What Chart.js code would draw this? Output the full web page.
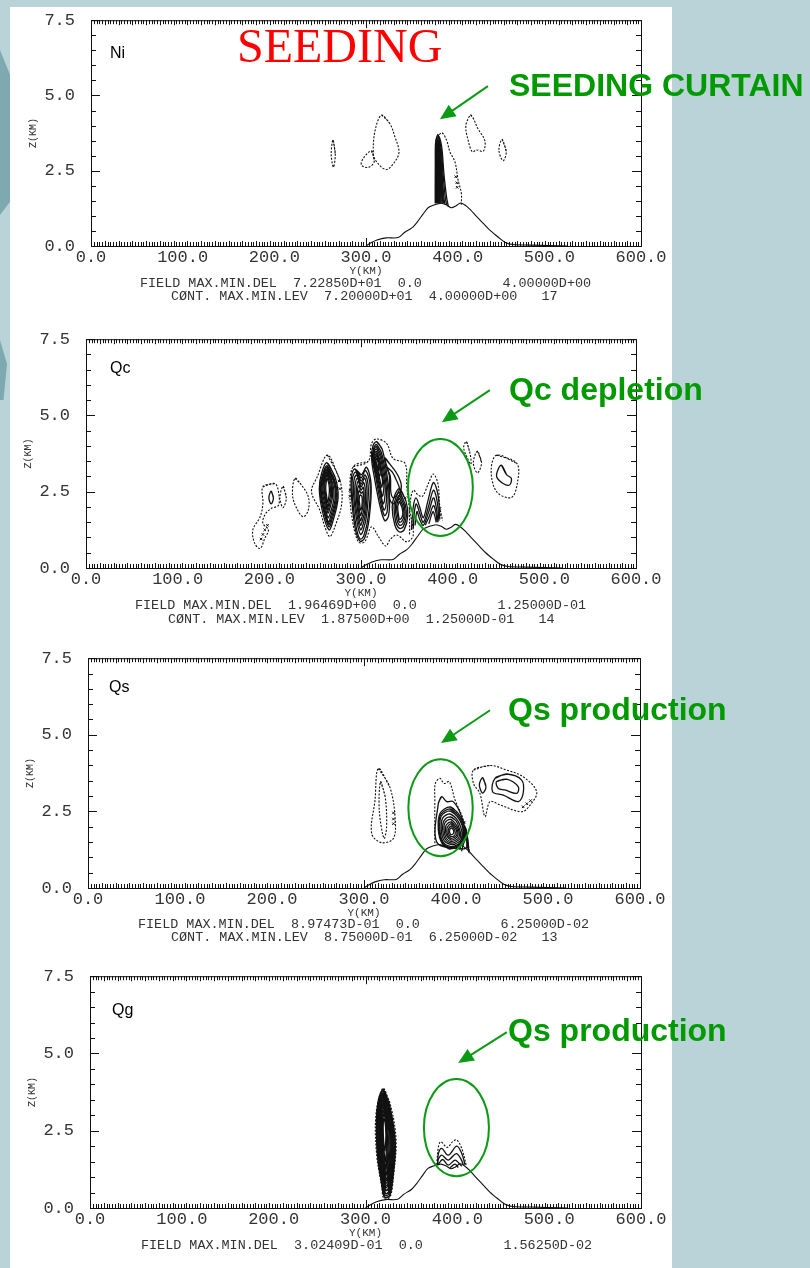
<!DOCTYPE html>
<html>
<head>
<meta charset="utf-8">
<title>Seeding</title>
<script src="https://cdn.jsdelivr.net/npm/chart.js@4"></script>
<style>
  html, body { margin: 0; padding: 0; }
  body { position: relative; width: 810px; height: 1268px; overflow: hidden; background: #b9d3d8; }
  #sheet { position: absolute; left: 10px; top: 7px; width: 662px; height: 1261px; background: #fff; }
  .shade { position: absolute; left: 0; width: 10px; background: #7fa9b0; }
  canvas { position: absolute; }
  .foot { position: absolute; height: 16px; line-height: 16px; font: 13.43px/16px "Liberation Mono", monospace; color: #333; white-space: pre; overflow: hidden; }
  .tag { position: absolute; font: 16px/18px "Liberation Sans", sans-serif; color: #000; }
  .note { position: absolute; font: bold 32px/36px "Liberation Sans", sans-serif; color: #009a00; white-space: nowrap; }
  #title { position: absolute; left: 237px; top: 18px; font: 48px/56px "Liberation Serif", serif; color: #ff0000; }
</style>
</head>
<body>
<div class="shade" style="top:50px;height:165px;clip-path:polygon(0 0,100% 15%,100% 92%,0 100%)"></div>
<div class="shade" style="top:340px;height:60px;width:7px;clip-path:polygon(0 0,100% 40%,50% 100%,0 100%)"></div>
<div id="sheet"></div>
<canvas id="chartNi"></canvas>
<canvas id="chartQc"></canvas>
<canvas id="chartQs"></canvas>
<canvas id="chartQg"></canvas>

<div id="title">SEEDING</div>
<div class="tag" style="left:110px;top:44px">Ni</div>
<div class="tag" style="left:110px;top:359px">Qc</div>
<div class="tag" style="left:109px;top:678px">Qs</div>
<div class="tag" style="left:112px;top:1001px">Qg</div>
<div class="note" style="left:509px;top:67px">SEEDING CURTAIN</div>
<div class="note" style="left:509px;top:371px">Qc depletion</div>
<div class="note" style="left:508px;top:691px">Qs production</div>
<div class="note" style="left:508px;top:1012px">Qs production</div>

<div class="foot" style="left:140px;top:276px">FIELD MAX.MIN.DEL  7.22850D+01  0.0          4.00000D+00</div>
<div class="foot" style="left:171px;top:289px">CØNT. MAX.MIN.LEV  7.20000D+01  4.00000D+00   17</div>
<div class="foot" style="left:135px;top:598px">FIELD MAX.MIN.DEL  1.96469D+00  0.0          1.25000D-01</div>
<div class="foot" style="left:168px;top:612px">CØNT. MAX.MIN.LEV  1.87500D+00  1.25000D-01   14</div>
<div class="foot" style="left:138px;top:917px">FIELD MAX.MIN.DEL  8.97473D-01  0.0          6.25000D-02</div>
<div class="foot" style="left:171px;top:930px">CØNT. MAX.MIN.LEV  8.75000D-01  6.25000D-02   13</div>
<div class="foot" style="left:141px;top:1238px;height:12px">FIELD MAX.MIN.DEL  3.02409D-01  0.0          1.56250D-02</div>

<script>
// axis ticks
const xTicks = [0, 100, 200, 300, 400, 500, 600];
const zTicks = [0, 2.5, 5, 7.5];

// terrain profile under every panel (km, km)
const terrainY = [300, 305, 312, 322, 335, 342, 350, 356, 362, 368, 374, 382, 388, 393, 398, 403, 408, 414, 420, 428, 436, 444, 452, 460, 480, 520];
const terrainZ = [0, 0.1, 0.2, 0.27, 0.28, 0.45, 0.6, 0.8, 1.05, 1.28, 1.36, 1.42, 1.36, 1.27, 1.33, 1.43, 1.36, 1.2, 1.0, 0.75, 0.5, 0.3, 0.12, 0.05, 0.03, 0];

// contours below are flat lists: y, z, y, z ...
const niDashedLoops = [
  [264, 3.52, 266.5, 3.05, 264.5, 2.62, 262, 3.05],
  [317, 4.35, 326, 4.07, 331.5, 3.63, 336, 3.13, 331.5, 2.8, 322, 2.54, 311.5, 2.8, 308, 3.07, 310, 3.85],
  [306, 3.16, 309, 2.8, 302.4, 2.61, 295, 2.69, 297, 2.91],
  [414, 4.35, 417, 4.24, 422, 3.9, 429.6, 3.5, 428, 3.15, 420.5, 3.19, 416, 3.13, 411.5, 3.5, 409, 4.0],
  [448.5, 3.54, 453, 3.13, 449.6, 2.83, 445, 3.18]
];
const niDashedOpen = [
  [376, 3.5, 382.4, 3.76, 387.8, 3.52, 391.5, 3.13, 397, 2.8, 400.5, 2.19, 404, 1.75, 404, 1.36]
];
const niSolidOpen = [
  [376, 1.42, 376, 2.6, 376.5, 3.3, 379, 3.65, 382.5, 3.3, 385, 2.4, 388, 1.6, 390, 1.3],
  [376.5, 1.42, 376.5, 2.6, 377, 3.25, 379, 3.58, 382, 3.2, 384, 2.4, 386.5, 1.6, 388, 1.36],
  [377, 1.42, 377, 2.6, 377.5, 3.2, 379, 3.5, 381.5, 3.1, 383, 2.4, 385, 1.6, 386, 1.4],
  [377.5, 1.42, 377.4, 2.6, 378, 3.15, 379, 3.42, 381, 3.05, 382.5, 2.4, 384, 1.6, 385, 1.42],
  [378, 1.42, 378, 2.5, 378.3, 3.1, 379, 3.35, 380.5, 3.0, 382, 2.4, 383, 1.7, 384, 1.42],
  [378.5, 1.42, 378.4, 2.5, 378.7, 3.0, 379.2, 3.25, 380.3, 2.9, 381.5, 2.3, 382.5, 1.7, 383, 1.42],
  [379, 1.42, 379, 2.5, 379.2, 3.1, 380, 2.8, 381, 2.2, 381.8, 1.42],
  [379.5, 1.42, 379.5, 2.4, 379.8, 2.9, 380.5, 2.3, 381, 1.42],
  [375.5, 1.42, 375.6, 2.8, 376, 3.45, 378.5, 3.7, 380, 3.4, 380, 2.2, 379.5, 1.42]
];
const niMarks = [398, 2.3, 399, 2.1, 399.5, 1.95];

const qcDashedLoops = [
  [193, 2.66, 206, 2.77, 210, 2.5, 210, 2.06, 202, 1.95, 195, 1.74, 193, 1.46, 199, 1.25, 195, 0.97, 190, 0.64, 184, 0.81, 182, 1.25, 190, 1.68, 193, 2.12],
  [215, 2.68, 218.5, 2.3, 215, 1.98, 211.5, 2.3],
  [228, 2.94, 235, 2.72, 242.5, 2.34, 242.5, 1.9, 237, 1.68, 230, 1.95, 225.3, 2.39],
  [263.5, 3.7, 277, 2.88, 279, 2.12, 271.5, 1.35, 266, 1.03, 260.6, 1.35, 255, 1.9, 246, 2.5, 252, 2.97],
  [291.5, 3.32, 308, 3.5, 311.5, 4.08, 317, 4.23, 328, 4.08, 335, 3.59, 348, 3.43, 350, 2.66, 353, 1.9, 357, 1.08, 350, 0.86, 339, 1.08, 331.5, 0.92, 327, 0.72, 319, 1.03, 311.5, 1.35, 304, 0.86, 297, 0.86, 290, 1.68, 288, 2.55],
  [415, 4.14, 419, 3.75, 420, 3.4, 416, 3.6, 412, 3.95],
  [427, 3.83, 431.5, 3.45, 427, 3.12, 422.5, 3.45],
  [448, 3.7, 470, 3.43, 470.5, 2.77, 464, 2.31, 448, 2.5, 442, 3.2]
];
const qcDashedOpen = [
  [353, 1.1, 353.5, 2.1, 357, 2.55, 362, 2.4, 367, 2.35, 374, 2.8, 379, 3.08, 384, 2.75, 386, 2, 389, 1.55]
];
const qcSolidLoops = [
  [202, 2.52, 204.5, 2.3, 202, 2.1, 199.5, 2.3],
  [453.3, 3.37, 459, 3.05, 464, 2.94, 462, 2.72, 455, 2.77, 448, 2.99, 450, 3.26],
  // cell near 263 km
  [263, 3.45, 272, 2.95, 275, 2.3, 269, 1.5, 265, 1.25, 258, 1.85, 254.5, 2.6, 257, 3.1],
  [263, 3.35, 271, 2.9, 274, 2.3, 268, 1.55, 265, 1.35, 259, 1.9, 255, 2.6, 258, 3.05],
  [263, 3.3, 270.5, 2.88, 273, 2.3, 267.5, 1.62, 264.8, 1.43, 259.5, 1.95, 255.8, 2.6, 258.5, 3.02],
  [263, 3.25, 270, 2.85, 272, 2.3, 267, 1.7, 264.5, 1.5, 260, 2.0, 256.5, 2.6, 259, 3.0],
  [263, 3.2, 269, 2.8, 270.5, 2.3, 266.5, 1.8, 264, 1.65, 260.5, 2.1, 257.5, 2.6, 259.5, 2.95],
  [263, 3.15, 268, 2.8, 269, 2.35, 266, 1.95, 264, 1.8, 261, 2.2, 258.5, 2.6, 260, 2.95],
  [263, 3.1, 267, 2.8, 268, 2.4, 265.5, 2.05, 264, 1.9, 261.5, 2.25, 259.5, 2.65, 260.5, 2.9],
  [263, 3.05, 266, 2.75, 267, 2.45, 265, 2.15, 263.8, 2.0, 262, 2.3, 260.5, 2.6, 261, 2.85],
  [263, 2.95, 265, 2.75, 265.5, 2.5, 264.5, 2.25, 263.5, 2.15, 262.5, 2.35, 261.5, 2.6, 262, 2.8],
  // cell near 300 km
  [293, 3.25, 300, 3.05, 306, 3.3, 311, 2.75, 309, 1.65, 304, 0.98, 299, 0.88, 294, 1.25, 290, 2.2, 289.5, 2.95],
  [294, 3.15, 300, 2.95, 305, 3.2, 310, 2.7, 308, 1.7, 303, 1.05, 299, 0.95, 295, 1.3, 291, 2.2, 290.5, 2.9],
  [295, 3.05, 300, 2.85, 304.5, 3.05, 308, 2.6, 306, 1.7, 302, 1.2, 299.5, 1.1, 296, 1.45, 292.5, 2.2, 292, 2.8],
  [296, 2.95, 300, 2.75, 304, 2.95, 306.5, 2.5, 305, 1.8, 301.5, 1.35, 299.5, 1.25, 296.5, 1.6, 293.5, 2.25, 293.5, 2.7],
  [297, 2.85, 300, 2.65, 303, 2.8, 305, 2.4, 304, 1.85, 301, 1.5, 299.5, 1.4, 297, 1.75, 295, 2.25, 295, 2.6],
  [297.5, 2.7, 300, 2.55, 302.5, 2.65, 303.5, 2.3, 303, 1.9, 300.8, 1.65, 299.5, 1.55, 297.5, 1.85, 296, 2.25, 296, 2.5],
  [298, 2.55, 300, 2.45, 302, 2.5, 302.5, 2.25, 302, 2, 300.5, 1.8, 299.5, 1.72, 298, 1.95, 297, 2.25, 297, 2.4],
  [299, 2.4, 301, 2.35, 301.3, 2.15, 300.5, 1.95, 299.5, 1.9, 298.5, 2.1, 298, 2.25],
  // tilted cell near 318 km
  [317, 4.14, 323, 3.9, 327, 3.3, 331, 2.4, 330, 1.7, 326, 1.55, 321, 2, 315, 2.9, 311.5, 3.6, 313, 4],
  [317, 4.05, 322, 3.8, 326, 3.25, 329.5, 2.45, 328.5, 1.85, 325.5, 1.72, 321, 2.2, 316, 3, 312.5, 3.6, 314, 3.95],
  [317, 3.98, 321.5, 3.72, 325, 3.2, 328, 2.5, 327, 2, 325, 1.9, 321, 2.4, 316.5, 3.05, 313, 3.6, 314.5, 3.9],
  [317, 3.9, 321, 3.65, 324, 3.15, 326.5, 2.6, 325.5, 2.2, 324, 2.1, 321, 2.55, 317, 3.1, 313.5, 3.6, 315, 3.85],
  [317, 3.82, 320.5, 3.55, 323, 3.1, 325, 2.7, 324, 2.4, 323, 2.35, 320.5, 2.75, 317, 3.2, 314, 3.6, 315.3, 3.78],
  [317, 3.75, 320, 3.5, 322, 3.1, 323.5, 2.85, 322.5, 2.65, 320.5, 2.9, 317.5, 3.25, 314.8, 3.6],
  [317, 3.68, 319.5, 3.45, 321, 3.1, 320, 3, 317.5, 3.35, 315.5, 3.58],
  [317.5, 3.6, 319, 3.4, 319.5, 3.2, 318, 3.3, 316.3, 3.5],
  // shoulder toward 345 km
  [326, 3.6, 333, 3.35, 340, 3.05, 344, 2.7, 341, 2.3, 335, 2.1, 331, 2.3, 331, 3],
  [328, 3.3, 334, 3.15, 339, 2.85, 342, 2.6, 339, 2.4, 335, 2.3, 332.5, 2.5, 332, 3],
  // cell near 342 km
  [342, 2.6, 349, 2.2, 351, 1.7, 347, 1.25, 342, 1.18, 337, 1.4, 334, 2, 337, 2.4],
  [342, 2.48, 348, 2.1, 349.5, 1.7, 346, 1.35, 342, 1.3, 338, 1.5, 336, 2, 338, 2.3],
  [342, 2.38, 347, 2.05, 348, 1.7, 345.5, 1.45, 342, 1.4, 339, 1.6, 337.5, 2, 339, 2.25],
  [342, 2.28, 346, 2, 346.8, 1.72, 345, 1.55, 342, 1.5, 340, 1.7, 338.8, 2, 340, 2.18],
  [342, 2.18, 345, 1.95, 345.5, 1.75, 344, 1.63, 342, 1.6, 340.8, 1.75, 340, 2, 340.8, 2.1]
];
const qcSolidOpen = [
  [355, 1.25, 357, 2.0, 360, 2.3, 364, 2.0, 368, 1.65, 373, 2.2, 379, 2.8, 384, 2.4, 386, 1.6],
  [357, 1.3, 358.5, 1.9, 360.5, 2.1, 364, 1.8, 368, 1.5, 373.5, 2, 379, 2.55, 383, 2.2, 385, 1.55],
  [359, 1.4, 361, 1.85, 364, 1.6, 368, 1.4, 374, 1.85, 379, 2.3, 382, 2, 384, 1.5],
  [370, 1.4, 374.5, 1.7, 379, 2.05, 381.5, 1.85, 383, 1.5],
  [374, 1.45, 378.5, 1.85, 380.5, 1.7, 382, 1.5]
];
const qcMarks = [191, 0.95, 193, 1.1, 195, 1.25, 198, 1.4, 277, 2.6, 276, 2.85, 288, 2.55, 288, 2.35, 348, 2.3, 348, 2.05, 386, 1.95, 386, 1.75];

const qsDashedLoops = [
  [315.6, 3.9, 328, 3.3, 333.7, 2.33, 332, 1.62, 319, 1.48, 308.3, 1.78, 312, 2.87],
  [318, 3.47, 323, 2.98, 324.6, 2.0, 321.7, 1.62, 316.6, 2.54],
  [419, 3.85, 437, 4.0, 455, 3.85, 473, 3.63, 487.7, 3.14, 480.4, 2.7, 471.4, 2.49, 447.8, 2.71, 437, 2.82, 431.5, 2.33, 426, 3.09, 419, 3.41]
];
const qsDashedOpen = [
  [377, 1.46, 377, 2.9, 377.5, 3.41, 382.6, 3.58, 387, 3.41, 392.7, 3.47, 399, 2.87, 408, 2.22, 415, 1.13]
];
const qsSolidLoops = [
  [442.4, 3.58, 455, 3.72, 471.4, 3.52, 473, 3.09, 467.7, 2.82, 451.4, 3.03, 439.8, 3.14],
  [444, 3.47, 455, 3.55, 467.7, 3.3, 466, 3.09, 453, 3.2, 446, 3.25],
  [429, 3.6, 432.6, 3.3, 429, 3.1, 425.4, 3.36],
  [380.8, 2.76, 384.4, 2.98, 390, 2.82, 397, 2.82, 406, 2.33, 412, 1.35, 400.7, 1.29, 379, 1.5],
  [393.5, 2.65, 402, 2.45, 408, 2.1, 410, 1.57, 402, 1.34, 393.5, 1.29, 385, 1.45, 380.8, 1.9, 382.6, 2.43],
  [393.5, 2.58, 401.5, 2.4, 407, 2.08, 409, 1.58, 401.5, 1.37, 393.5, 1.32, 385.5, 1.47, 381.6, 1.9, 383.2, 2.39],
  [393.5, 2.52, 401, 2.35, 406.5, 2.05, 408, 1.6, 401, 1.4, 393.5, 1.36, 386, 1.5, 382.5, 1.9, 384, 2.35],
  [393.5, 2.42, 400, 2.28, 405, 2, 406.5, 1.62, 400, 1.45, 394, 1.42, 387, 1.55, 384, 1.9, 385.5, 2.28],
  [394, 2.32, 400, 2.2, 403.5, 1.95, 405, 1.65, 399.5, 1.5, 394, 1.47, 388, 1.6, 385.5, 1.9, 387, 2.2],
  [394, 2.24, 399, 2.12, 402.5, 1.92, 403.5, 1.67, 399, 1.55, 394, 1.52, 389, 1.64, 387, 1.9, 388, 2.13],
  [394.5, 2.16, 398.5, 2.05, 401.5, 1.9, 402, 1.7, 398.5, 1.6, 394.5, 1.57, 390, 1.7, 388.5, 1.9, 389.5, 2.06],
  [394.5, 2.1, 398, 2, 400.5, 1.88, 400.8, 1.72, 397.5, 1.64, 394.5, 1.62, 391, 1.73, 390, 1.9, 391, 2],
  [395, 2.03, 397.5, 1.95, 399, 1.85, 399, 1.74, 396.5, 1.68, 393, 1.72, 391.5, 1.88],
  [395, 1.96, 397, 1.9, 397.5, 1.8, 395.5, 1.74, 393.5, 1.78, 393, 1.88]
];
const qsSolidOpen = [
  [402, 1.3, 406, 1.6, 409, 2.0, 411, 1.9, 412, 1.3],
  [404, 1.25, 407.5, 1.6, 410, 1.95, 412, 1.7, 413, 1.25],
  [406, 1.2, 409, 1.55, 411, 1.85, 413, 1.55, 414, 1.15]
];
const qsMarks = [332, 2.45, 332, 2.25, 332, 2.1, 409, 2.15, 409, 1.95, 481, 2.85, 477, 2.75, 473, 2.65];

const qgDashedLoops = [
  [319, 3.87, 326.8, 3.38, 333.3, 2.2, 330.4, 1.01, 326.8, 0.36, 320, 0.31, 317.7, 0.69, 312, 1.76, 311.5, 3.06]
];
const qgDashedOpen = [
  [377.5, 1.4, 379.4, 1.98, 382, 2.14, 389, 1.96, 395, 2.15, 399.4, 2.2, 404.8, 1.93, 409.6, 1.39]
];
const qgSolidLoops = [
  [316, 3.7, 319, 3.82, 323, 3.6, 328, 3, 332.5, 2.1, 330, 1, 326, 0.38, 321, 0.35, 317.5, 0.8, 313, 1.8, 312, 2.9, 313.5, 3.4],
  [316.5, 3.62, 319, 3.72, 322.5, 3.5, 327, 2.95, 331, 2.1, 329, 1.1, 325.5, 0.5, 321.5, 0.48, 318.3, 0.9, 314, 1.85, 313, 2.9, 314.5, 3.35],
  [317, 3.5, 319, 3.6, 322, 3.4, 326, 2.9, 330, 2.1, 328, 1.2, 325, 0.6, 322, 0.6, 319, 1, 315, 1.9, 314, 2.85, 315, 3.25],
  [317.5, 3.4, 319, 3.5, 321.5, 3.3, 325, 2.85, 329, 2.1, 327, 1.3, 324.5, 0.75, 322, 0.75, 319.5, 1.15, 316, 1.95, 315, 2.8, 315.8, 3.15],
  [318, 3.3, 319.5, 3.38, 321.3, 3.2, 324.5, 2.75, 328, 2.15, 326, 1.45, 324, 0.9, 322, 0.9, 320, 1.3, 317, 2, 316, 2.75, 316.5, 3.05],
  [319, 3.8, 326, 3.35, 332, 2.2, 329.5, 1.05, 326, 0.4, 320.5, 0.36, 318, 0.72, 313, 1.76, 312.5, 3.05],
  [319, 3.72, 325.3, 3.3, 330.8, 2.2, 328.6, 1.1, 325.5, 0.45, 321, 0.42, 318.5, 0.78, 314, 1.78, 313.3, 3.02],
  [319, 3.66, 324.7, 3.25, 329.8, 2.22, 327.8, 1.18, 325, 0.52, 321.3, 0.48, 319, 0.85, 314.8, 1.8, 314, 3],
  [319.2, 3.58, 324, 3.2, 328.8, 2.24, 327, 1.25, 324.5, 0.62, 321.6, 0.56, 319.5, 0.95, 315.5, 1.82, 314.7, 2.95],
  [319.2, 3.5, 323.5, 3.15, 327.8, 2.25, 326.3, 1.35, 324, 0.72, 322, 0.66, 320, 1.05, 316.2, 1.85, 315.4, 2.9],
  [319.4, 3.42, 323, 3.1, 326.8, 2.28, 325.5, 1.45, 323.6, 0.84, 322, 0.8, 320.4, 1.15, 316.9, 1.9, 316, 2.85],
  [319.5, 3.34, 322.7, 3.05, 325.8, 2.3, 324.8, 1.55, 323.2, 0.96, 322, 0.92, 320.8, 1.25, 317.5, 1.95, 316.7, 2.8],
  [319.7, 3.25, 322.3, 3, 324.8, 2.32, 324.1, 1.65, 322.9, 1.1, 322, 1.06, 321, 1.38, 318, 2, 317.3, 2.75],
  [319.8, 3.15, 322, 2.92, 323.8, 2.35, 323.4, 1.78, 322.5, 1.28, 321.8, 1.26, 321, 1.55, 318.6, 2.05, 318, 2.7],
  [320, 3.05, 321.7, 2.85, 323, 2.38, 322.7, 1.9, 322, 1.5, 321.4, 1.55, 319.2, 2.1, 318.6, 2.65],
  [320, 2.9, 321.4, 2.75, 322.2, 2.4, 321.8, 2.05, 321, 1.85, 319.8, 2.15, 319.2, 2.6]
];
const qgSolidOpen = [
  [378.5, 1.4, 379.4, 1.76, 383, 1.93, 390, 1.71, 399.4, 2.0, 404.8, 1.76, 408.5, 1.39],
  [378.5, 1.4, 379, 1.55, 383, 1.71, 390, 1.55, 398.7, 1.76, 403.7, 1.6, 406.6, 1.39],
  [379, 1.4, 384, 1.57, 390, 1.39, 397.5, 1.55, 402, 1.44, 404.8, 1.35],
  [392, 1.3, 397.5, 1.42, 401, 1.31]
];

// ellipse centre/radii and arrow ends in data units, per panel
const niArrow = [433, 5.31, 380.6, 4.21];
const qcArrow = [440.6, 5.83, 388.2, 4.78];
const qsArrow = [437, 5.8, 383.7, 4.73];
const qgArrow = [454, 5.69, 400.9, 4.69];
const qcEllipse = [386.6, 2.64, 35.4, 1.59];
const qsEllipse = [383.2, 2.62, 35, 1.58];
const qgEllipse = [399, 2.6, 35.4, 1.57];

const INK = "#111";
const GREEN = "#0a9a14";
const AXIS_FONT = '"Liberation Mono", monospace';
const LEFT_GUTTER = 64;
const TOP_GUTTER = 26;
const RIGHT_GUTTER = 40;
const BOTTOM_GUTTER = 32;

function toPoints(flat, closed) {
  const pts = [];
  for (let i = 0; i < flat.length; i += 2) pts.push({ x: flat[i], y: flat[i + 1] });
  // run over the start again so the spline has no cusp where the loop closes
  if (closed) pts.push({ x: flat[0], y: flat[1] }, { x: flat[2], y: flat[3] });
  return pts;
}

function lineSet(flat, closed, dashed) {
  return {
    data: toPoints(flat, closed),
    showLine: true,
    borderColor: INK,
    borderWidth: dashed ? 1.1 : 1.3,
    borderDash: dashed ? [2, 1.5] : [],
    tension: 0.35,
    pointRadius: 0,
    fill: false,
    clip: false
  };
}

function contourSets(dashedLoops, dashedOpen, solidLoops, solidOpen, marks) {
  const sets = [];
  sets.push({
    data: terrainY.map(function (y, i) { return { x: y, y: terrainZ[i] }; }),
    showLine: true, borderColor: INK, borderWidth: 1.1, tension: 0.3, pointRadius: 0
  });
  dashedLoops.forEach(function (c) { sets.push(lineSet(c, true, true)); });
  dashedOpen.forEach(function (c) { sets.push(lineSet(c, false, true)); });
  solidLoops.forEach(function (c) { sets.push(lineSet(c, true, false)); });
  solidOpen.forEach(function (c) { sets.push(lineSet(c, false, false)); });
  sets.push({
    data: toPoints(marks, false), showLine: false, pointStyle: "crossRot",
    pointRadius: 1.8, pointBorderColor: INK, pointBorderWidth: 1
  });
  return sets;
}

// comb ticks on all four sides, inward, plus the frame
const framePlugin = {
  id: "frame",
  afterDraw: function (chart) {
    const ctx = chart.ctx;
    const a = chart.chartArea;
    const xs = chart.scales.x;
    const ys = chart.scales.y;
    ctx.save();
    ctx.strokeStyle = INK;
    ctx.lineWidth = 1;
    ctx.strokeRect(a.left + 0.5, a.top + 0.5, a.right - a.left, a.bottom - a.top);
    ctx.beginPath();
    for (let km = 0; km <= 600; km += 3) {
      const px = Math.round(xs.getPixelForValue(km)) + 0.5;
      const len = km % 100 === 0 ? 8 : (km % 15 === 0 ? 5 : 4);
      ctx.moveTo(px, a.top); ctx.lineTo(px, a.top + len);
      ctx.moveTo(px, a.bottom); ctx.lineTo(px, a.bottom - len);
    }
    for (let z = 0; z <= 7.5; z += 0.5) {
      const py = Math.round(ys.getPixelForValue(z)) + 0.5;
      const len = z % 2.5 === 0 ? 9 : 5;
      ctx.moveTo(a.left, py); ctx.lineTo(a.left + len, py);
      ctx.moveTo(a.right, py); ctx.lineTo(a.right - len, py);
    }
    ctx.stroke();
    ctx.restore();
  }
};

// green callouts, placed through the chart's scales
const calloutPlugin = {
  id: "callout",
  afterDraw: function (chart, args, opts) {
    const ctx = chart.ctx;
    const xs = chart.scales.x;
    const ys = chart.scales.y;
    ctx.save();
    ctx.strokeStyle = GREEN;
    ctx.fillStyle = GREEN;
    if (opts.ellipse) {
      const e = opts.ellipse;
      ctx.lineWidth = 2;
      ctx.beginPath();
      ctx.ellipse(xs.getPixelForValue(e[0]), ys.getPixelForValue(e[1]),
        Math.abs(xs.getPixelForValue(e[0] + e[2]) - xs.getPixelForValue(e[0])),
        Math.abs(ys.getPixelForValue(e[1] + e[3]) - ys.getPixelForValue(e[1])),
        0, 0, Math.PI * 2);
      ctx.stroke();
    }
    const x0 = xs.getPixelForValue(opts.arrow[0]);
    const y0 = ys.getPixelForValue(opts.arrow[1]);
    const x1 = xs.getPixelForValue(opts.arrow[2]);
    const y1 = ys.getPixelForValue(opts.arrow[3]);
    const ang = Math.atan2(y1 - y0, x1 - x0);
    ctx.lineWidth = 2;
    ctx.beginPath();
    ctx.moveTo(x0, y0);
    ctx.lineTo(x1 - 10 * Math.cos(ang), y1 - 10 * Math.sin(ang));
    ctx.stroke();
    ctx.beginPath();
    ctx.moveTo(x1, y1);
    ctx.lineTo(x1 - 17 * Math.cos(ang - 0.42), y1 - 17 * Math.sin(ang - 0.42));
    ctx.lineTo(x1 - 17 * Math.cos(ang + 0.42), y1 - 17 * Math.sin(ang + 0.42));
    ctx.closePath();
    ctx.fill();
    ctx.restore();
  }
};

function makePanel(id, box, datasets, callout) {
  const canvas = document.getElementById(id);
  canvas.width = box.right - box.left + LEFT_GUTTER + RIGHT_GUTTER;
  canvas.height = box.bottom - box.top + TOP_GUTTER + BOTTOM_GUTTER;
  canvas.style.left = box.left - LEFT_GUTTER + "px";
  canvas.style.top = box.top - TOP_GUTTER + "px";
  return new Chart(canvas.getContext("2d"), {
    type: "scatter",
    data: { datasets: datasets },
    plugins: [framePlugin, calloutPlugin],
    options: {
      responsive: false,
      animation: false,
      layout: { autoPadding: false, padding: { top: TOP_GUTTER, right: RIGHT_GUTTER, left: 0, bottom: 0 } },
      plugins: { legend: { display: false }, tooltip: { enabled: false }, callout: callout },
      scales: {
        x: {
          type: "linear", min: 0, max: 600,
          afterBuildTicks: function (s) { s.ticks = xTicks.map(function (v) { return { value: v }; }); },
          afterFit: function (s) { s.height = BOTTOM_GUTTER; },
          grid: { display: false, drawTicks: false },
          border: { display: false },
          title: { display: true, text: "Y(KM)", color: "#333", padding: 0, font: { family: AXIS_FONT, size: 11 } },
          ticks: {
            color: "#333", maxRotation: 0, autoSkip: false, padding: 1,
            font: { family: AXIS_FONT, size: 17 },
            callback: function (v) { return Number(v).toFixed(1); }
          }
        },
        y: {
          type: "linear", min: 0, max: 7.5,
          afterBuildTicks: function (s) { s.ticks = zTicks.map(function (v) { return { value: v }; }); },
          afterFit: function (s) { s.width = LEFT_GUTTER; },
          grid: { display: false, drawTicks: false },
          border: { display: false },
          title: { display: true, text: "Z(KM)", color: "#333", padding: 0, font: { family: AXIS_FONT, size: 10 } },
          ticks: {
            color: "#333", autoSkip: false, padding: 16,
            font: { family: AXIS_FONT, size: 17 },
            callback: function (v) { return Number(v).toFixed(1); }
          }
        }
      }
    }
  });
}

makePanel("chartNi", { left: 91, right: 641, top: 20, bottom: 246 },
  contourSets(niDashedLoops, niDashedOpen, [], niSolidOpen, niMarks),
  { arrow: niArrow });
makePanel("chartQc", { left: 86, right: 636, top: 339, bottom: 568 },
  contourSets(qcDashedLoops, qcDashedOpen, qcSolidLoops, qcSolidOpen, qcMarks),
  { arrow: qcArrow, ellipse: qcEllipse });
makePanel("chartQs", { left: 88, right: 640, top: 658, bottom: 888 },
  contourSets(qsDashedLoops, qsDashedOpen, qsSolidLoops, qsSolidOpen, qsMarks),
  { arrow: qsArrow, ellipse: qsEllipse });
makePanel("chartQg", { left: 90, right: 641, top: 976, bottom: 1208 },
  contourSets(qgDashedLoops, qgDashedOpen, qgSolidLoops, qgSolidOpen, []),
  { arrow: qgArrow, ellipse: qgEllipse });
</script>
</body>
</html>
